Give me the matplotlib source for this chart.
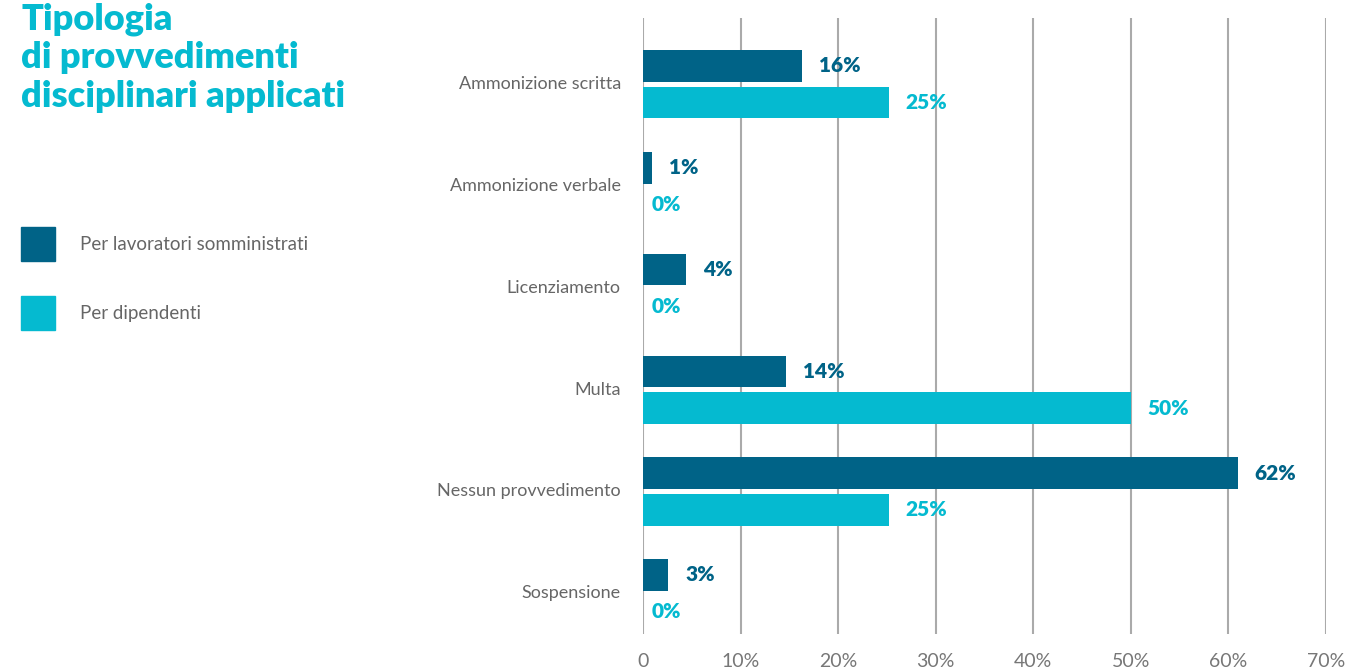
import matplotlib.pyplot as plt
import numpy as np

# dati
categorie = ["Ammonizione scritta", "Ammonizione verbale", "Licenziamento",
             "Multa", "Nessun provvedimento", "Sospensione"]
somministrati = [16.3, 0.9, 4.4, 14.7, 61.0, 2.6]
dipendenti = [25.2, 0.0, 0.0, 50.0, 25.2, 0.0]
etichette_somm = ["16%", "1%", "4%", "14%", "62%", "3%"]
etichette_dip = ["25%", "0%", "0%", "50%", "25%", "0%"]
xticks = [0, 10, 20, 30, 40, 50, 60, 70]
xtick_labels = ["0", "10%", "20%", "30%", "40%", "50%", "60%", "70%"]

SCURO = "#006387"
CIANO = "#05BAD0"
GRIGIO = "#666666"

plt.rcParams['font.family'] = ['Lato', 'DejaVu Sans']

fig = plt.figure(figsize=(13.51, 6.70), dpi=100)
ax = fig.add_axes([0.476, 0.0537, 0.5055, 0.9193])

y = np.arange(len(categorie))
h = 0.31
off = 0.18
ax.barh(y - off, somministrati, height=h, color=SCURO, zorder=3)
ax.barh(y + off, dipendenti, height=h, color=CIANO, zorder=3)

for i in range(len(categorie)):
    ax.annotate(etichette_somm[i], (somministrati[i], y[i] - off), xytext=(12, 0),
                textcoords="offset points", va="center", ha="left",
                fontsize=15, fontweight="heavy", color=SCURO)
    ax.annotate(etichette_dip[i], (dipendenti[i], y[i] + off),
                xytext=(12 if dipendenti[i] > 0 else 6, 0),
                textcoords="offset points", va="center", ha="left",
                fontsize=15, fontweight="heavy", color=CIANO)

ax.set_xlim(0, 70)
ax.set_ylim(5.40, -0.65)
ax.set_xticks(xticks)
ax.set_xticklabels(xtick_labels, fontsize=14, color="#777777")
ax.set_yticks(y)
ax.set_yticklabels(categorie, fontsize=13, color=GRIGIO, va="bottom")
ax.tick_params(axis="x", length=0, pad=14)
ax.tick_params(axis="y", length=0, pad=16)
for lab in ax.get_yticklabels():
    lab.set_verticalalignment("center")
for s in ax.spines.values():
    s.set_visible(False)
ax.grid(axis="x", color="#aaaaaa", linewidth=1.5, zorder=0)

# titolo
fig.text(21 / 1351, 1 - 2 / 670, "Tipologia\ndi provvedimenti\ndisciplinari applicati",
         fontsize=26, fontweight="heavy", color=CIANO, va="top", ha="left",
         linespacing=1.22)

# legenda
fig.patches.append(plt.Rectangle((21 / 1351, 1 - 261 / 670), 34 / 1351, 34 / 670,
                                 transform=fig.transFigure, color=SCURO))
fig.patches.append(plt.Rectangle((21 / 1351, 1 - 330 / 670), 34 / 1351, 34 / 670,
                                 transform=fig.transFigure, color=CIANO))
fig.text(80 / 1351, 1 - 244 / 670, "Per lavoratori somministrati", fontsize=13.5,
         color=GRIGIO, va="center", ha="left")
fig.text(80 / 1351, 1 - 313 / 670, "Per dipendenti", fontsize=13.5,
         color=GRIGIO, va="center", ha="left")

fig.savefig("out.png", dpi=100)
